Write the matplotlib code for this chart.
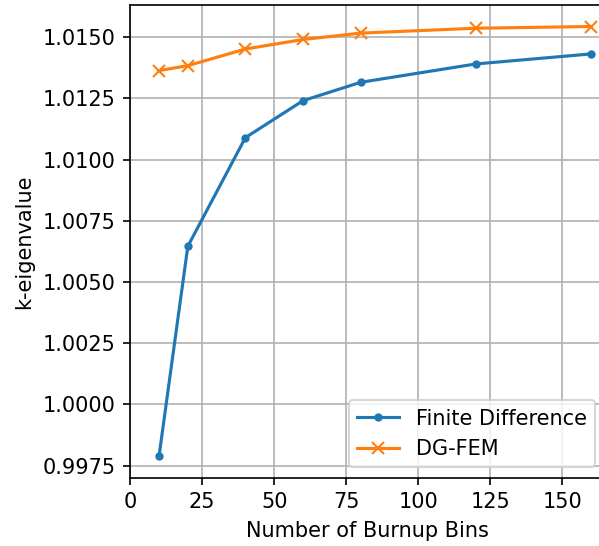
import matplotlib
matplotlib.use("Agg")
import matplotlib.pyplot as plt

# Burnup bin counts and resulting k-eigenvalues
bins = [10, 20, 40, 60, 80, 120, 160]
k_fd = [0.99788, 1.00646, 1.01090, 1.01241, 1.01316, 1.01391, 1.01432]
k_dgfem = [1.01364, 1.01384, 1.01452, 1.01491, 1.01517, 1.01537, 1.01544]

DPI = 150
fig = plt.figure(figsize=(599 / DPI, 546 / DPI), dpi=DPI)
ax = fig.add_axes([0.2174, 0.125, 0.7933, 0.8658])

ax.plot(bins, k_fd, '.-', label='Finite Difference')
ax.plot(bins, k_dgfem, 'x-', label='DG-FEM')
ax.set_xlim(0, 165)
ax.set_xlabel('Number of Burnup Bins')
ax.set_ylabel('k-eigenvalue')
ax.grid(True)
ax.legend(loc='lower right')

fig.savefig('out.png', dpi=DPI)
